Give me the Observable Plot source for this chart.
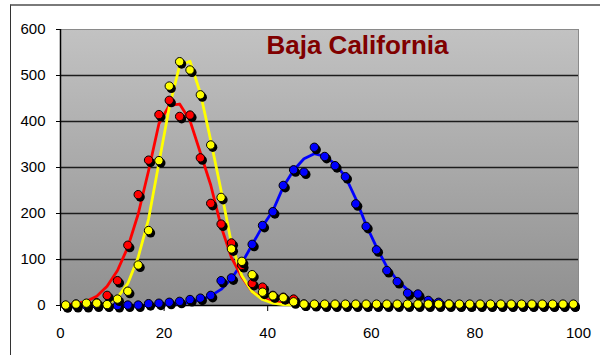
<!DOCTYPE html>
<html>
<head>
<meta charset="utf-8">
<script src="https://cdn.jsdelivr.net/npm/d3@7"></script>
<script src="https://cdn.jsdelivr.net/npm/@observablehq/plot@0.6"></script>
<style>
  html, body { margin: 0; padding: 0; background: #fff; }
  #chart { position: relative; width: 600px; height: 355px; overflow: hidden;
           font-family: "Liberation Sans", Arial, sans-serif; }
  #border { position: absolute; left: 10px; top: 4px; width: 700px; height: 400px;
            border-top: 2px solid #7a7a7a; border-left: 1px solid #333; }
  #chart svg { position: absolute; left: 0; top: 0; }
</style>
</head>
<body>
<div id="chart"><div id="border"></div></div>
<script>
// Sample positions (odd values 1..99)
const xValues = [1,3,5,7,9,11,13,15,17,19,21,23,25,27,29,31,33,35,37,39,
                 41,43,45,47,49,51,53,55,57,59,61,63,65,67,69,71,73,75,77,79,
                 81,83,85,87,89,91,93,95,97,99];

// Observed counts per series
const redObserved = [0,3,4,6,22,54,131,241,316,415,446,411,414,321,222,177,136,87,48,40,
                     22,18,14,3,2,1,1,1,1,1,1,1,1,1,1,1,1,1,1,1,
                     1,1,1,1,1,1,1,1,1,1];
const yellowObserved = [1,3,5,5,2,14,31,88,163,315,477,530,512,458,349,235,123,96,67,29,
                        21,17,8,3,3,3,3,3,3,3,3,3,3,3,3,3,3,3,3,3,
                        3,3,3,3,3,3,3,3,3,3];
const blueObserved = [0,0,0,1,1,0,1,1,4,5,7,9,13,16,22,54,60,88,133,174,
                      204,261,295,290,344,324,304,280,221,172,121,76,52,27,25,11,7,3,2,2,
                      2,2,2,2,2,2,2,2,2,2];

// Fitted curves per series
const redFit = [1,4,9,20,42,76,127,199,293,395,435,438,402,332,262,172,104,62,30,16,
                9,5,3,2,1,0,0,0,0,0,0,0,0,0,0,0,0,0,0,0,
                0,0,0,0,0,0,0,0,0,0];
const yellowFit = [0,0,1,2,4,17,48,105,188,310,431,522,531,462,359,250,135,65,30,13,
                   5,2,1,0,0,0,0,0,0,0,0,0,0,0,0,0,0,0,0,0,
                   0,0,0,0,0,0,0,0,0,0];
const blueFit = [0,0,0,0,0,0,0,0,0,1,2,4,7,12,21,35,58,92,132,172,
                 206,258,294,319,330,324,308,280,232,175,127,84,55,34,21,13,7,4,2,1,
                 0,0,0,0,0,0,0,0,0,0];

const xTicks = [0,20,40,60,80,100];
const yTicks = [0,100,200,300,400,500,600];
const gridValues = [100,200,300,400,500];
const title = "Baja California";

const rows = (ys) => xValues.map((x, i) => ({x, y: ys[i]}));

const series = [
  {color: "#0000ff", obs: rows(blueObserved), fit: rows(blueFit)},
  {color: "#ff0000", obs: rows(redObserved), fit: rows(redFit)},
  {color: "#ffff00", obs: rows(yellowObserved), fit: rows(yellowFit)}
];

const lineMarks = series.map(s =>
  Plot.line(s.fit, {x: "x", y: "y", stroke: s.color, strokeWidth: 2.8, curve: "linear"}));

// each marker: a dark drop shadow, then the coloured disc
const dotMarks = series.flatMap(s => [
  Plot.dot(s.obs, {x: "x", y: "y", r: 4.6, fill: "#000", dx: 2, dy: 2.4}),
  Plot.dot(s.obs, {x: "x", y: "y", r: 4.2, fill: s.color, stroke: "#000", strokeWidth: 1})
]);

const plot = Plot.plot({
  width: 600,
  height: 355,
  marginLeft: 60,
  marginRight: 22,
  marginTop: 29,
  marginBottom: 50,
  style: {background: "transparent", fontFamily: "'Liberation Sans', Arial, sans-serif", color: "#000"},
  x: {domain: [0, 100]},
  y: {domain: [0, 600]},
  marks: [
    Plot.frame({fill: "url(#plotBg)", stroke: "#8a8a8a", strokeWidth: 1}),
    Plot.ruleY(gridValues, {stroke: "#1c1c1c", strokeWidth: 1.3}),
    Plot.axisY({ticks: yTicks, tickSize: 4, tickPadding: 11, label: null, fontSize: 15}),
    Plot.axisX({ticks: xTicks, tickSize: 6, tickPadding: 16, label: null, fontSize: 15}),
    Plot.ruleX([0], {stroke: "#000", strokeWidth: 1.5}),
    Plot.ruleY([0], {stroke: "#000", strokeWidth: 1.5}),
    ...lineMarks,
    ...dotMarks,
    Plot.text([title], {frameAnchor: "top", dx: 38, dy: 24, lineAnchor: "bottom",
                        fill: "#800000", fontSize: 26, fontWeight: "bold"})
  ]
});

// vertical grey gradient behind the plotting area
const ns = "http://www.w3.org/2000/svg";
const defs = document.createElementNS(ns, "defs");
const grad = document.createElementNS(ns, "linearGradient");
grad.setAttribute("id", "plotBg");
grad.setAttribute("x1", "0"); grad.setAttribute("y1", "0");
grad.setAttribute("x2", "0"); grad.setAttribute("y2", "1");
[["0", "#c2c2c2"], ["1", "#909090"]].forEach(([o, c]) => {
  const stop = document.createElementNS(ns, "stop");
  stop.setAttribute("offset", o);
  stop.setAttribute("stop-color", c);
  grad.appendChild(stop);
});
defs.appendChild(grad);
plot.insertBefore(defs, plot.firstChild);

document.getElementById("chart").appendChild(plot);
</script>
</body>
</html>
